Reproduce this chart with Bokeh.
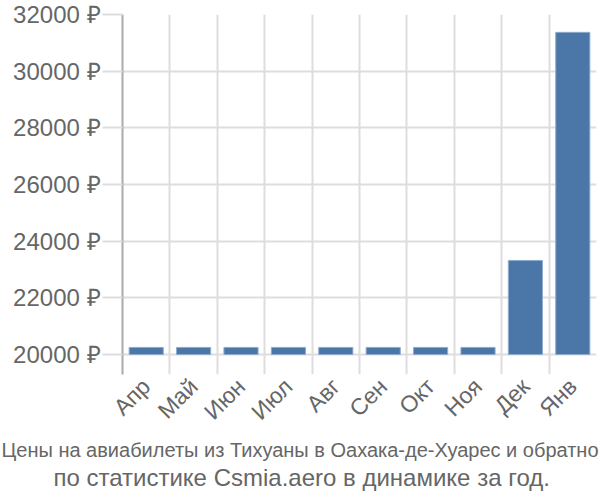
from bokeh.plotting import figure
from bokeh.models import Range1d, FixedTicker, PrintfTickFormatter, Title, ColumnDataSource
from bokeh.embed import file_html
from bokeh.resources import INLINE
import math

months = ["Апр", "Май", "Июн", "Июл", "Авг", "Сен", "Окт", "Ноя", "Дек", "Янв"]
prices = [20250, 20250, 20250, 20250, 20250, 20250, 20250, 20250, 23320, 31370]
y_ticks = [20000, 22000, 24000, 26000, 28000, 30000, 32000]
title_line1 = "Цены на авиабилеты из Тихуаны в Оахака-де-Хуарес и обратно"
title_line2 = "по статистике Csmia.aero в динамике за год."

xs = [i + 0.5 for i in range(len(months))]
src = ColumnDataSource(dict(x=xs, top=prices, bottom=[20000] * len(prices)))

p = figure(width=600, height=500, output_backend="svg", toolbar_location=None,
           x_range=Range1d(0, len(months)), y_range=Range1d(19294, 32000),
           min_border_left=122, min_border_right=4, min_border_top=14, min_border_bottom=126)
p.outline_line_color = None
p.background_fill_color = "white"

p.vbar(x="x", top="top", bottom="bottom", width=0.72, source=src,
       fill_color="#4b77a8", line_color="#8fabcc", line_width=1)

# y axis
p.yaxis.ticker = FixedTicker(ticks=y_ticks)
p.yaxis.formatter = PrintfTickFormatter(format="%d ₽")
p.yaxis.axis_line_color = "#aaaaaa"
p.yaxis.axis_line_width = 2
p.yaxis.major_tick_out = 20
p.yaxis.major_tick_in = 0
p.yaxis.major_tick_line_color = "#dddddd"
p.yaxis.major_tick_line_width = 2
p.yaxis.minor_tick_line_color = None
p.yaxis.major_label_standoff = 2
p.yaxis.major_label_text_font = "Liberation Sans"
p.yaxis.major_label_text_font_size = "24px"
p.yaxis.major_label_text_color = "#666666"

# x axis
p.xaxis.ticker = FixedTicker(ticks=xs)
p.xaxis.major_label_overrides = {x: m for x, m in zip(xs, months)}
p.xaxis.axis_line_color = None
p.xaxis.major_tick_line_color = None
p.xaxis.minor_tick_line_color = None
p.xaxis.major_label_orientation = math.pi / 4
p.xaxis.major_label_standoff = 2
p.xaxis.major_label_text_font = "Liberation Sans"
p.xaxis.major_label_text_font_size = "23px"
p.xaxis.major_label_text_color = "#666666"

# grids
p.xgrid.ticker = FixedTicker(ticks=list(range(len(months) + 1)))
p.xgrid.grid_line_color = "#dddddd"
p.xgrid.grid_line_width = 2
p.ygrid.ticker = FixedTicker(ticks=y_ticks)
p.ygrid.grid_line_color = "#dddddd"
p.ygrid.grid_line_width = 2

t1 = Title(text=title_line1, align="left", offset=-121, text_font="Liberation Sans",
           text_font_size="20px", text_color="#666666", text_font_style="normal",
           standoff=1)
t2 = Title(text=title_line2, align="left", offset=-69, text_font="Liberation Sans",
           text_font_size="24px", text_color="#666666", text_font_style="normal",
           standoff=0)
p.add_layout(t1, "below")
p.add_layout(t2, "below")

open("out.html", "w").write(file_html(p, INLINE))
